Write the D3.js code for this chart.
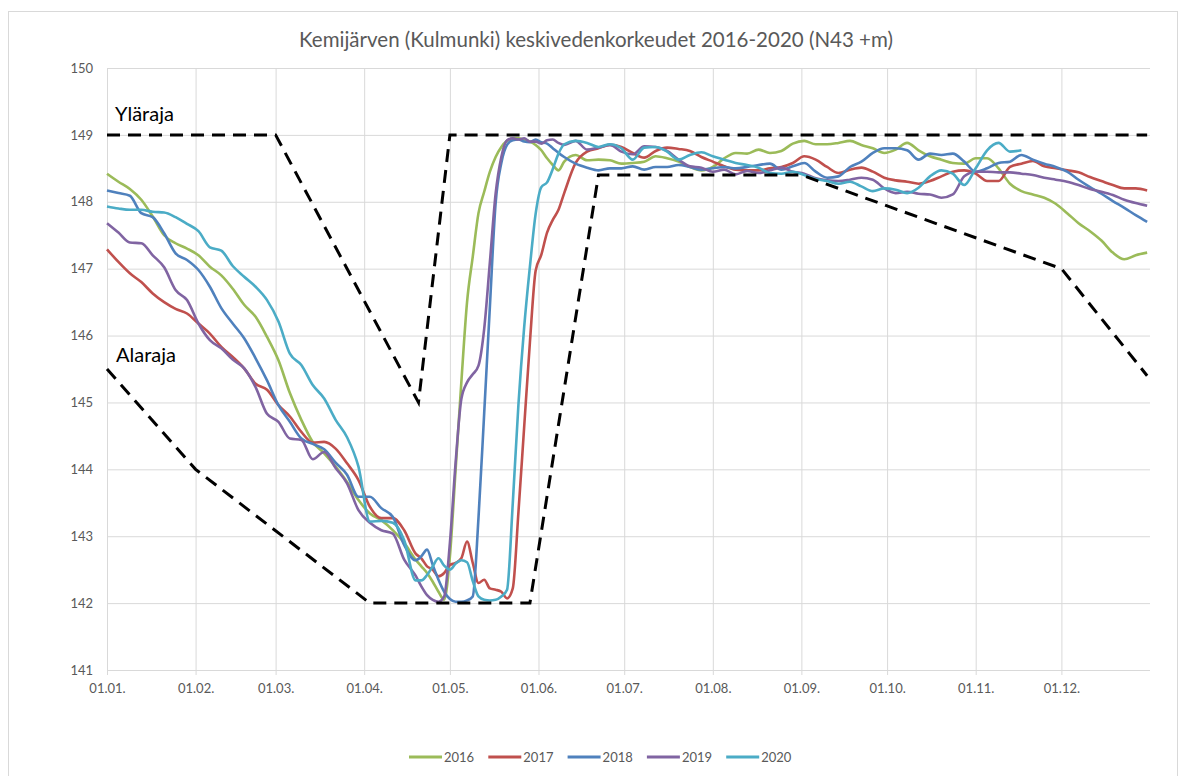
<!DOCTYPE html>
<html lang="fi">
<head>
<meta charset="UTF-8">
<title>Kemijärven (Kulmunki) keskivedenkorkeudet 2016-2020</title>
<script src="https://d3js.org/d3.v7.min.js"></script>
<style>
  body { margin: 0; background: #fff; font-family: Lato, 'Open Sans', sans-serif; }
  .axis text { fill: #595959; font-size: 13px; font-family: Lato, sans-serif; }
  .axis .domain { display: none; }
  .axis line { stroke: #d9d9d9; stroke-width: 1; }
  .legend text { fill: #595959; font-size: 13px; }
</style>
</head>
<body>

<svg id="chart" width="1181" height="776"></svg>

<script>
  // päivä vuoden alusta (0 = 01.01.)
  const days = [
    0, 4, 8, 12, 16, 20, 24, 28, 32, 36, 40, 44, 48, 52, 56, 60, 64, 68, 72, 76, 80, 84, 88, 92, 96, 100, 104, 108,
    110, 112, 114, 116, 118, 120, 122, 124, 126, 128, 130, 132, 134, 136, 138, 140, 142, 144, 146, 148, 150, 152, 154, 156, 158, 160,
    164, 168, 172, 176, 180, 184, 188, 192, 196, 200, 204, 208, 212, 216, 220, 224, 228, 232, 236, 240, 244, 248, 252, 256, 260,
    264, 268, 272, 276, 280, 284, 288, 292, 296, 300, 304, 308, 312, 316, 320, 324, 328, 332, 336, 340, 344, 348, 352, 356, 360, 364
  ];

  const years = ["2016", "2017", "2018", "2019", "2020"];
  const colors = ["#9BBB59", "#C0504D", "#4F81BD", "#8064A2", "#4BACC6"];

  const level2016 = [
    148.42, 148.30, 148.19, 148.03, 147.78, 147.50, 147.38, 147.30, 147.20, 147.03, 146.90, 146.70, 146.46, 146.28, 145.98, 145.63, 145.14, 144.74, 144.41, 144.24, 144.04, 143.81, 143.54, 143.34, 143.24, 143.09, 142.90, 142.65,
    142.55, 142.45, 142.32, 142.17, 142.05, 142.70, 144.00, 145.30, 146.50, 147.18, 147.83, 148.15, 148.45, 148.67, 148.82, 148.91, 148.95, 148.95, 148.93, 148.90, 148.85, 148.77, 148.65, 148.55, 148.47, 148.60,
    148.70, 148.62, 148.63, 148.62, 148.57, 148.58, 148.60, 148.68, 148.65, 148.60, 148.52, 148.47, 148.52, 148.65, 148.73, 148.72, 148.78, 148.73, 148.76, 148.87, 148.91, 148.86, 148.86, 148.88, 148.91,
    148.85, 148.80, 148.73, 148.78, 148.88, 148.77, 148.68, 148.63, 148.58, 148.57, 148.65, 148.65, 148.50, 148.27, 148.16, 148.11, 148.06, 147.97, 147.83, 147.68, 147.56, 147.42, 147.24, 147.14, 147.20, 147.24
  ];
  const level2017 = [
    147.29, 147.10, 146.93, 146.80, 146.63, 146.50, 146.40, 146.33, 146.18, 146.03, 145.83, 145.68, 145.51, 145.28, 145.19, 144.96, 144.79, 144.56, 144.40, 144.41, 144.31, 144.09, 143.84, 143.44, 143.27, 143.27, 143.09, 142.74,
    142.67, 142.55, 142.50, 142.40, 142.45, 142.57, 142.60, 142.67, 142.92, 142.60, 142.30, 142.35, 142.22, 142.20, 142.17, 142.07, 142.22, 143.37, 144.64, 145.90, 146.97, 147.21, 147.54, 147.73, 147.88, 148.13,
    148.58, 148.75, 148.80, 148.85, 148.82, 148.73, 148.66, 148.76, 148.81, 148.79, 148.76, 148.67, 148.60, 148.53, 148.48, 148.47, 148.47, 148.50, 148.52, 148.58, 148.68, 148.63, 148.52, 148.43, 148.48,
    148.51, 148.45, 148.36, 148.32, 148.30, 148.27, 148.31, 148.38, 148.45, 148.47, 148.42, 148.31, 148.31, 148.52, 148.57, 148.61, 148.53, 148.50, 148.47, 148.44, 148.37, 148.31, 148.25, 148.20, 148.20, 148.17
  ];
  const level2018 = [
    148.17, 148.13, 148.09, 147.83, 147.77, 147.53, 147.23, 147.13, 146.98, 146.73, 146.41, 146.18, 145.96, 145.66, 145.33, 144.96, 144.71, 144.46, 144.38, 144.30, 144.10, 143.92, 143.59, 143.59, 143.42, 143.29, 142.87, 142.64,
    142.70, 142.80, 142.57, 142.35, 142.17, 142.06, 142.02, 142.02, 142.04, 142.10, 143.27, 144.84, 146.44, 147.98, 148.58, 148.85, 148.92, 148.93, 148.90, 148.89, 148.93, 148.89, 148.87, 148.80, 148.73, 148.67,
    148.57, 148.51, 148.47, 148.50, 148.50, 148.53, 148.48, 148.52, 148.52, 148.55, 148.52, 148.48, 148.50, 148.52, 148.50, 148.52, 148.55, 148.57, 148.48, 148.53, 148.58, 148.45, 148.36, 148.38, 148.52,
    148.60, 148.73, 148.80, 148.80, 148.77, 148.63, 148.72, 148.70, 148.72, 148.60, 148.45, 148.50, 148.58, 148.60, 148.70, 148.63, 148.57, 148.52, 148.45, 148.33, 148.22, 148.12, 148.01, 147.91, 147.80, 147.70
  ];
  const level2019 = [
    147.68, 147.54, 147.39, 147.38, 147.20, 147.02, 146.68, 146.53, 146.18, 145.93, 145.81, 145.64, 145.51, 145.23, 144.83, 144.71, 144.46, 144.44, 144.15, 144.26, 144.02, 143.79, 143.39, 143.20, 143.09, 143.04, 142.65, 142.41,
    142.25, 142.12, 142.05, 142.02, 142.10, 142.90, 144.10, 145.05, 145.30, 145.42, 145.55, 146.10, 147.10, 148.12, 148.67, 148.92, 148.95, 148.93, 148.95, 148.90, 148.90, 148.87, 148.92, 148.93, 148.88, 148.85,
    148.91, 148.78, 148.81, 148.85, 148.75, 148.71, 148.83, 148.82, 148.76, 148.63, 148.53, 148.51, 148.45, 148.48, 148.41, 148.46, 148.43, 148.47, 148.51, 148.45, 148.42, 148.35, 148.32, 148.31, 148.33,
    148.36, 148.33, 148.20, 148.13, 148.15, 148.12, 148.11, 148.06, 148.11, 148.38, 148.45, 148.45, 148.44, 148.44, 148.42, 148.40, 148.36, 148.33, 148.30, 148.25, 148.19, 148.15, 148.10, 148.03, 147.98, 147.94
  ];
  const level2020 = [
    147.93, 147.90, 147.88, 147.88, 147.85, 147.84, 147.77, 147.67, 147.56, 147.32, 147.27, 147.04, 146.88, 146.73, 146.53, 146.21, 145.73, 145.56, 145.26, 145.06, 144.74, 144.48, 144.04, 143.22, 143.23, 143.20, 142.94, 142.34,
    142.34, 142.42, 142.55, 142.67, 142.56, 142.50, 142.59, 142.64, 142.61, 142.33, 142.10, 142.05, 142.04, 142.05, 142.10, 142.20, 143.49, 144.98, 146.13, 147.03, 147.82, 148.22, 148.29, 148.49, 148.72, 148.86,
    148.91, 148.88, 148.82, 148.86, 148.80, 148.63, 148.81, 148.82, 148.75, 148.63, 148.70, 148.74, 148.68, 148.63, 148.58, 148.55, 148.51, 148.43, 148.42, 148.45, 148.40, 148.34, 148.31, 148.27, 148.30,
    148.23, 148.16, 148.20, 148.18, 148.13, 148.21, 148.38, 148.47, 148.42, 148.25, 148.50, 148.77, 148.88, 148.75, 148.77, null, null, null, null, null, null, null, null, null, null, null
  ];
  const levels = [level2016, level2017, level2018, level2019, level2020];

  // säännöstelyrajat
  const upperDays = [0, 59, 109, 120, 364];
  const upperLevels = [149, 149, 145, 149, 149];
  const lowerDays = [0, 31, 92, 148, 172, 243, 334, 364];
  const lowerLevels = [145.5, 144.0, 142.0, 142.0, 148.4, 148.4, 147.0, 145.4];

  const yTicks = [141, 142, 143, 144, 145, 146, 147, 148, 149, 150];
  const title = "Kemijärven (Kulmunki) keskivedenkorkeudet 2016-2020 (N43 +m)";

  const svg = d3.select("#chart");
  const plot = { left: 107, right: 1150, top: 68, bottom: 670 };

  const start = new Date(Date.UTC(2019, 0, 1));
  const end = new Date(Date.UTC(2020, 0, 1));
  const dayToDate = d => d3.utcDay.offset(start, d);

  const x = d3.scaleUtc().domain([start, end]).range([plot.left, plot.right]);
  const y = d3.scaleLinear().domain([141, 150]).range([plot.bottom, plot.top]);

  // kehys
  svg.append("rect")
      .attr("x", 8.5).attr("y", 11.5)
      .attr("width", 1169).attr("height", 800)
      .attr("fill", "#fff")
      .attr("stroke", "#d9d9d9");

  svg.append("text")
      .attr("x", 596).attr("y", 47)
      .attr("text-anchor", "middle")
      .style("font-size", "20.5px")
      .style("fill", "#595959")
      .text(title);

  // y-akseli + vaakaviivat
  svg.append("g")
      .attr("class", "axis")
      .attr("transform", `translate(${plot.left},0)`)
      .call(d3.axisLeft(y).tickValues(yTicks).tickFormat(d3.format("d"))
        .tickSize(-(plot.right - plot.left)).tickPadding(14));

  // x-akseli + pystyviivat
  svg.append("g")
      .attr("class", "axis")
      .attr("transform", `translate(0,${plot.bottom + 5})`)
      .call(d3.axisBottom(x).tickValues(d3.utcMonths(start, end))
        .tickFormat(d3.utcFormat("%d.%m."))
        .tickSize(-(plot.bottom + 5 - plot.top)).tickPadding(9));

  const line = d3.line()
      .defined(d => d.v != null)
      .x(d => x(dayToDate(d.day)))
      .y(d => y(d.v))
      .curve(d3.curveMonotoneX);

  years.forEach((yr, i) => {
    const pts = days.map((d, j) => ({ day: d, v: levels[i][j] }));
    svg.append("path")
        .datum(pts)
        .attr("fill", "none")
        .attr("stroke", colors[i])
        .attr("stroke-width", 2.6)
        .attr("stroke-linejoin", "round")
        .attr("d", line);
  });

  const limitLine = d3.line()
      .x(d => x(dayToDate(d.day)))
      .y(d => y(d.v));

  [[upperDays, upperLevels], [lowerDays, lowerLevels]].forEach(([ds, vs]) => {
    svg.append("path")
        .datum(ds.map((d, j) => ({ day: d, v: vs[j] })))
        .attr("fill", "none")
        .attr("stroke", "#000")
        .attr("stroke-width", 3)
        .attr("stroke-dasharray", "13,8")
        .attr("d", limitLine);
  });

  svg.append("text")
      .attr("x", plot.left + 8).attr("y", y(149) - 14)
      .style("font-size", "20px").style("fill", "#000")
      .text("Yläraja");

  svg.append("text")
      .attr("x", plot.left + 9).attr("y", y(145.5) - 7)
      .style("font-size", "20px").style("fill", "#000")
      .text("Alaraja");

  // selite
  const legend = svg.append("g")
      .attr("class", "legend")
      .attr("transform", "translate(409,757)");

  const item = legend.selectAll("g")
      .data(years)
      .enter().append("g")
      .attr("transform", (d, i) => `translate(${i * 79.3},0)`);

  item.append("line")
      .attr("x1", 0).attr("x2", 33)
      .attr("stroke", (d, i) => colors[i])
      .attr("stroke-width", 3);

  item.append("text")
      .attr("x", 35).attr("dy", "0.35em")
      .text(d => d);
</script>

</body>
</html>
